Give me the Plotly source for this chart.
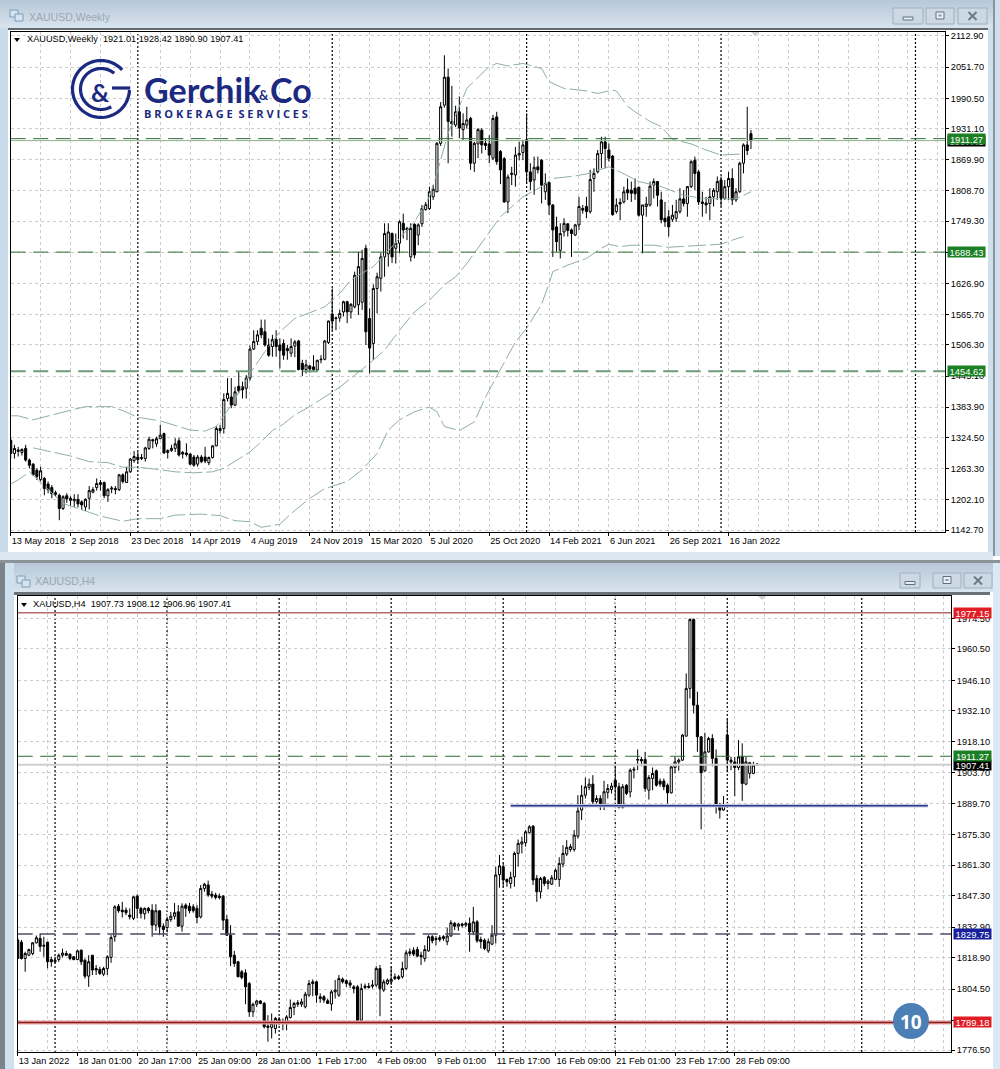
import numpy as np
import plotly.graph_objects as go

# ---------- DATA ----------
weekly_candles = [
(1319,1323,1283,1293),(1293,1310,1283,1303),(1297,1306,1287,1300),(1295,1303,1289,1301),(1303,1310,1277,1280),
(1280,1283,1264,1270),(1272,1274,1250,1251),(1260,1264,1241,1248),(1242,1267,1238,1259),(1244,1247,1211,1224),
(1233,1238,1215,1222),(1226,1231,1205,1214),(1216,1220,1208,1213),(1211,1214,1162,1185),(1185,1211,1182,1208),
(1210,1215,1196,1204),(1205,1209,1190,1201),(1200,1213,1188,1203),(1203,1213,1187,1194),(1198,1201,1182,1192),
(1188,1205,1180,1203),(1205,1229,1183,1220),(1217,1227,1215,1222),(1226,1244,1220,1234),(1232,1241,1220,1236),
(1236,1238,1205,1210),(1210,1225,1198,1222),(1223,1229,1215,1225),(1224,1229,1213,1222),(1222,1253,1219,1251),
(1251,1254,1234,1238),(1236,1267,1235,1257),(1257,1284,1255,1282),(1279,1298,1275,1287),(1286,1296,1275,1281),
(1283,1292,1280,1285),(1283,1306,1277,1304),(1303,1326,1300,1321),(1320,1322,1303,1318),(1312,1326,1306,1322),
(1322,1349,1321,1329),(1332,1334,1292,1294),(1295,1301,1283,1299),(1299,1310,1296,1303),(1303,1323,1296,1312),
(1318,1324,1287,1290),(1295,1298,1283,1292),(1294,1313,1287,1291),(1292,1293,1270,1272),(1286,1290,1267,1270),
(1272,1290,1267,1286),(1286,1290,1274,1277),(1286,1306,1274,1278),(1275,1287,1270,1285),(1285,1309,1283,1308),
(1308,1347,1307,1342),(1342,1349,1332,1338),(1342,1411,1332,1399),(1401,1441,1395,1411),(1404,1441,1382,1388),
(1388,1424,1386,1414),(1425,1454,1411,1416),(1424,1434,1401,1418),(1421,1447,1401,1441),(1441,1505,1436,1498),
(1498,1535,1496,1513),(1513,1535,1506,1526),(1539,1556,1519,1526),(1532,1556,1503,1506),(1506,1519,1483,1486),
(1503,1526,1483,1517),(1517,1535,1483,1503),(1506,1519,1460,1495),(1509,1517,1477,1486),(1499,1506,1477,1495),
(1490,1519,1483,1503),(1504,1516,1482,1512),(1514,1516,1456,1458),(1470,1477,1445,1458),(1458,1477,1450,1467),
(1465,1467,1452,1459),(1463,1486,1455,1458),(1457,1477,1456,1476),(1477,1486,1470,1478),(1478,1516,1476,1514),
(1511,1554,1508,1553),(1567,1617,1535,1553),(1558,1562,1535,1559),(1559,1575,1552,1568),(1571,1593,1562,1591),
(1591,1593,1549,1571),(1571,1588,1558,1586),(1581,1650,1578,1643),(1585,1689,1565,1660),(1590,1693,1575,1676),
(1696,1703,1506,1532),(1558,1578,1450,1500),(1509,1625,1477,1617),(1617,1648,1568,1640),(1637,1687,1611,1679),
(1679,1745,1640,1725),(1685,1745,1660,1728),(1725,1727,1667,1679),(1696,1725,1666,1706),(1706,1751,1686,1748),
(1745,1764,1715,1732),(1735,1738,1712,1732),(1679,1745,1670,1735),(1743,1745,1676,1683),(1722,1745,1702,1742),
(1744,1781,1738,1774),(1772,1787,1770,1782),(1774,1817,1771,1807),(1797,1820,1791,1812),(1807,1905,1806,1902),
(1902,1983,1897,1974),(1977,2075,1972,2032),(2032,2049,1863,1945),(1945,2015,1915,1940),(1938,1976,1934,1964),
(1964,1994,1912,1932),(1929,1961,1909,1941),(1938,1974,1931,1948),(1951,1954,1850,1863),(1863,1905,1846,1902),
(1901,1932,1873,1929),(1928,1932,1882,1899),(1902,1912,1889,1898),(1901,1918,1863,1879),(1873,1958,1869,1951),
(1954,1964,1860,1866),(1886,1889,1822,1850),(1872,1875,1785,1787),(1787,1841,1765,1836),(1841,1856,1820,1843),
(1840,1895,1817,1879),(1879,1905,1869,1882),(1884,1909,1869,1899),(1909,1961,1823,1846),(1846,1863,1810,1827),
(1830,1876,1801,1855),(1856,1876,1843,1850),(1869,1871,1784,1820),(1807,1843,1791,1823),(1825,1827,1761,1781),
(1781,1783,1679,1732),(1738,1758,1689,1709),(1692,1745,1676,1725),(1728,1755,1719,1745),(1744,1745,1719,1731),
(1732,1735,1679,1725),(1722,1744,1720,1742),(1742,1797,1732,1778),(1774,1781,1764,1771),(1778,1797,1755,1768),
(1768,1850,1764,1831),(1833,1853,1807,1843),(1846,1889,1843,1882),(1882,1915,1853,1905),(1905,1915,1853,1892),
(1889,1902,1866,1873),(1877,1879,1760,1762),(1768,1794,1764,1781),(1786,1794,1751,1783),(1787,1817,1784,1807),
(1811,1833,1791,1805),(1810,1827,1787,1804),(1814,1833,1791,1803),(1816,1817,1758,1761),(1761,1781,1686,1781),
(1778,1797,1758,1783),(1781,1827,1778,1818),(1820,1833,1794,1827),(1827,1828,1778,1800),(1791,1807,1745,1752),
(1755,1787,1738,1748),(1758,1771,1719,1738),(1753,1781,1748,1761),(1755,1791,1748,1768),(1768,1814,1764,1793),
(1793,1810,1778,1784),(1784,1818,1758,1817),(1817,1869,1814,1866),(1869,1876,1810,1843),(1846,1850,1781,1787),
(1787,1807,1758,1784),(1785,1797,1764,1781),(1784,1814,1751,1797),(1797,1814,1778,1810),(1807,1837,1791,1827),
(1830,1837,1778,1794),(1794,1830,1791,1817),(1817,1846,1791,1833),(1833,1853,1781,1791),(1791,1814,1787,1807),
(1807,1866,1805,1863),(1863,1902,1843,1899),(1899,1974,1879,1888),(1921.01,1928.42,1890.90,1907.41),
]

h4_candles = [
(1827,1828,1818.5,1818.5),(1826,1827,1818,1818.5),(1818.5,1821.6,1812.4,1820.8),(1820,1823,1819.6,1822.6),(1820.8,1826,1820,1825.7),
(1825.7,1829,1825.4,1828),(1827.7,1830,1821.6,1824),(1824.6,1828.5,1819.3,1824.2),(1826,1826.2,1814,1817),(1818,1819.3,1814.7,1817),
(1817,1819.3,1816.2,1817.7),(1818,1820.8,1817,1820),(1820,1823,1819,1821),(1820.8,1822,1819.6,1820),(1820.5,1820.8,1817.7,1818.5),
(1819.3,1819.6,1817.7,1818),(1818,1822.6,1817.7,1822),(1822.3,1822.6,1815.5,1817),(1817.7,1818.5,1809.3,1810.4),(1810.4,1820,1805.5,1817),
(1820,1820,1810.9,1813.2),(1813.9,1815.5,1810.9,1813.2),(1813.5,1814.7,1810.9,1811.6),(1811.3,1814.7,1810.4,1813.9),(1813.9,1820,1810.9,1819.3),
(1819,1829.2,1816.5,1828.1),(1828.5,1843,1826.2,1842.2),(1842.5,1843.5,1839.5,1840.4),(1840.7,1844.5,1837.3,1840),(1840.7,1841.9,1838.4,1839.5),
(1838.4,1841.5,1836.4,1837.6),(1836.9,1847.1,1836.1,1846.8),(1847.1,1848,1836.9,1841.5),(1841.5,1842.2,1836.9,1839.2),(1839,1841.9,1836.4,1841.5),
(1841.5,1842.2,1839.2,1840.4),(1840.7,1843.4,1828.5,1833.8),(1833.8,1843.4,1831.2,1840.4),(1840.4,1840.7,1829.2,1833),(1833.3,1834.6,1828.5,1831.8),
(1832.7,1837.6,1830.8,1836.4),(1836.4,1839.9,1835.3,1837.9),(1837.9,1844,1836.4,1839.5),(1839.9,1843,1833,1833.3),(1833.3,1843.8,1830.8,1842.5),
(1843,1843.8,1837.6,1841.5),(1842.5,1844,1839.2,1840.4),(1842.2,1843.4,1839.5,1840.4),(1841.5,1843,1834.6,1837.3),(1837.6,1852.2,1836.9,1850.6),
(1850.6,1853.2,1849.1,1852.6),(1852.2,1854.2,1846.8,1847.6),(1848,1849.5,1846,1847.1),(1847.6,1848.6,1845.6,1846.5),(1847.1,1848.3,1845.6,1846.5),
(1847.1,1847.6,1831.5,1836.1),(1836.4,1838.4,1828.8,1829.2),(1829.2,1833.8,1815,1819.3),(1820,1822,1814.7,1816.2),(1817,1817.4,1810.1,1810.1),
(1812.4,1813.2,1808.9,1809.8),(1811.9,1813.5,1797.5,1805.5),(1807,1807.8,1791.7,1794),(1794,1798.2,1791.7,1797.5),(1797.5,1799.4,1796.3,1799),
(1799,1799.4,1797.5,1797.9),(1797.9,1798.6,1786.4,1787.2),(1787.5,1792.5,1780.3,1786.9),(1786.9,1793.3,1781.8,1788.7),(1786.4,1791.7,1784.1,1791),
(1790.5,1791.7,1787.9,1789),(1789.4,1791,1785.6,1788.7),(1788.7,1792.5,1785.6,1791.7),(1791.4,1799.7,1791,1796),(1796,1798.6,1792.5,1797.9),
(1797.5,1799.4,1796.3,1798.2),(1797.5,1800.1,1796.3,1798.6),(1796.3,1803.2,1795.6,1802.1),(1801.7,1808.6,1800.9,1807),(1807,1808.9,1801.2,1807.8),
(1807.8,1808.3,1798.2,1801.7),(1800.9,1802.5,1798.2,1800.1),(1800.9,1801.7,1798.2,1799.4),(1799.1,1800.1,1797.9,1797.9),(1797.6,1804,1794.5,1803.2),
(1803.2,1808.6,1800.1,1804),(1801.7,1810.9,1800.9,1809.3),(1809,1809.8,1807,1807.8),(1808.3,1808.9,1805.5,1807),(1807.3,1808.6,1805,1806.3),
(1805.5,1806.3,1802.5,1804.7),(1805.5,1806.3,1788.4,1790.2),(1790.2,1807,1790.2,1804.7),(1805.2,1807,1804.3,1805.8),(1805.8,1807.3,1804.7,1805.2),
(1805.8,1808.6,1804.7,1806.3),(1806.3,1815,1805.5,1813.9),(1813.9,1815.5,1792,1804.7),(1804,1808.9,1803.2,1807.8),(1807,1809.3,1806.3,1808.6),
(1807.8,1814.7,1806.3,1808.9),(1809.3,1811.6,1808.6,1810.1),(1810.1,1810.9,1808.6,1809.3),(1810.1,1817,1809.3,1813.9),(1813.9,1822.3,1813.2,1821.1),
(1820.8,1823.1,1819.6,1821.6),(1822.3,1823.6,1819.6,1820.5),(1822.6,1823.9,1819,1819.6),(1820,1821.6,1815.5,1819.3),(1818.5,1824.6,1817,1822.6),
(1822,1829.2,1821.6,1828.5),(1828.5,1829.2,1825.4,1826.6),(1827.7,1828.8,1824.6,1827.2),(1827.2,1829.2,1826.2,1828.1),(1828.5,1829.2,1826.6,1827.7),
(1826.2,1832.7,1824.6,1828.8),(1828.8,1836.1,1828.5,1834.9),(1834.6,1835.3,1831.5,1833.3),(1833.3,1834.9,1831.2,1834.3),(1834.3,1834.9,1832.7,1833.7),
(1833.8,1835.3,1833,1834.6),(1834.6,1837.3,1821.6,1830.7),(1830.7,1842.2,1829.2,1835.3),(1835.3,1836.1,1825.7,1826.6),(1827.2,1828.5,1823.1,1826.2),
(1826.9,1827.7,1822.3,1823.1),(1822,1827.7,1821.1,1826.2),(1825.1,1833.8,1824.6,1829.2),(1829.2,1860.6,1825.4,1856.8),(1857,1866,1851,1861),
(1860.6,1862.1,1851.4,1854.5),(1854.8,1855.2,1851.4,1853.7),(1852.9,1858.3,1850.6,1855.7),(1856,1867.5,1851.4,1866.7),(1866.7,1873.1,1860.6,1871.3),
(1871,1874.4,1866.7,1872),(1871.6,1877.4,1869.8,1876.6),(1876.2,1879.7,1875.9,1878.9),(1879.2,1879.7,1852.2,1854.5),(1855.2,1856.8,1844.5,1849.1),
(1849.1,1856,1846,1855.2),(1855.7,1856.3,1851.7,1852.9),(1852.9,1854.8,1850.2,1854),(1852.6,1856.8,1852.2,1855.5),(1854.8,1859.8,1854.5,1859),
(1854.8,1864.9,1851.4,1862.1),(1861.8,1870.5,1860.3,1866.7),(1866.4,1872.8,1865.5,1869.5),(1868.5,1871,1867.5,1869.8),(1868.5,1877.4,1867.5,1875.1),
(1874.6,1893.4,1873.5,1886.2),(1886.6,1898,1882,1893.4),(1893.4,1901.5,1891.9,1897.3),(1897,1901,1895.7,1898.5),(1898.5,1902.6,1888.4,1890.4),
(1890.4,1893.4,1889.6,1891.9),(1891.9,1893.4,1886.6,1889.6),(1888.8,1900,1886.6,1895),(1894.7,1898.5,1891.9,1896.5),(1896,1899.1,1894.2,1897.6),
(1900.3,1908.7,1891.1,1897.3),(1897.3,1899.1,1887.3,1887.8),(1887.8,1898.5,1887.3,1897.3),(1898,1898.5,1893.4,1894.2),(1894.9,1905.7,1892.4,1904.9),
(1904.9,1906.4,1901.1,1905.3),(1909.5,1914.4,1904.9,1909.8),(1909.8,1911,1906.7,1909.2),(1909.8,1913.3,1895,1896.5),(1895.7,1902.6,1891.4,1901.5),
(1901.1,1906.1,1895.7,1903.4),(1904.6,1905.2,1897.3,1898),(1899.9,1901.1,1897.3,1898.5),(1899.9,1901.1,1895.7,1897.3),(1898,1898.8,1889.6,1894.5),
(1894.5,1906.7,1894.2,1906.4),(1906.1,1911,1903.4,1908.7),(1908.7,1910.3,1904.6,1909.5),(1909.5,1921.4,1909.2,1921),(1920.5,1949.3,1920.5,1942.4),
(1942.4,1974.5,1937.8,1974),(1974,1974.5,1930.9,1934.7),(1934.7,1940.9,1913.3,1920.2),(1920.2,1920.5,1877.7,1903.7),(1904.6,1922.1,1904.2,1913.3),
(1913.3,1920.2,1912.9,1919.4),(1919.4,1921.4,1906.7,1910.3),(1910.3,1914.4,1885,1888.8),(1888.8,1889.9,1882.7,1886.6),(1886.6,1893,1886.3,1888.8),
(1921,1928.2,1904.2,1909.5),(1909.5,1911,1904.9,1908.7),(1908.7,1911,1893,1906.1),(1906.1,1918.7,1904.9,1911),(1911,1917.2,1890.8,1898.8),
(1898.5,1911,1898,1908.7),(1903.4,1908.7,1901.1,1908.3),(1903.4,1908.7,1903.1,1907.2),(1907.73,1908.12,1906.96,1907.41),
]

upper_band = [(0,1367),(2,1367),(6,1359),(10,1367),(16,1378),(20,1385),(27,1385),(30,1377),(34,1364),(40,1357),(43,1350),(48,1339),(52,1337),(55,1346),
(59,1388),(64,1450),(68,1493),(72,1532),(76,1558),(80,1570),(84,1581),(88,1607),(91,1634),(97,1660),(100,1683),(108,1748),(112,1797),(114,1843),(117,1922),
(122,2010),(126,2040),(128,2053),(130,2059),(133,2054),(137,2059),(140,2053),(142,2049),(144,2023),(148,2010),(154,2005),(157,2000),(161,2007),(162,2005),
(165,1975),(167,1964),(171,1945),(174,1935),(177,1910),(182,1901),(186,1889),(190,1879),(195,1881)]
middle_band = [(6,1304),(11,1296),(16,1288),(21,1277),(26,1275),(30,1266),(34,1266),(39,1262),(44,1257),(49,1255),(54,1257),(57,1264),(60,1277),(64,1296),
(67,1316),(70,1338),(73,1351),(76,1369),(80,1385),(84,1404),(88,1423),(92,1447),(96,1470),(100,1496),(104,1535),(108,1571),(112,1594),(116,1624),(119,1640),
(122,1666),(126,1706),(131,1758),(133,1771),(137,1797),(142,1817),(145,1833),(151,1838),(154,1842),(160,1856),(163,1846),(168,1827),(174,1817),(180,1800),
(185,1794),(190,1793),(194,1793),(198,1807)]
lower_band = [(0,1233),(2,1241),(5,1257),(14,1195),(18,1185),(24,1170),(30,1160),(34,1165),(40,1165),(44,1172),(51,1174),(56,1171),(60,1161),(64,1159),
(67,1148),(72,1154),(75,1175),(80,1205),(84,1224),(90,1238),(94,1261),(98,1293),(101,1339),(104,1359),(108,1375),(112,1384),(114,1375),(116,1346),(120,1338),
(124,1355),(127,1404),(131,1457),(132,1470),(135,1512),(138,1539),(140,1562),(142,1586),(144,1627),(145,1650),(149,1663),(154,1676),(158,1696),(160,1704),
(163,1699),(166,1702),(172,1702),(176,1698),(183,1701),(190,1704),(193,1712),(196,1719)]

weekly_date_labels = ["13 May 2018","2 Sep 2018","23 Dec 2018","14 Apr 2019","4 Aug 2019","24 Nov 2019","15 Mar 2020",
                      "5 Jul 2020","25 Oct 2020","14 Feb 2021","6 Jun 2021","26 Sep 2021","16 Jan 2022"]
h4_date_labels = ["13 Jan 2022","18 Jan 01:00","20 Jan 17:00","25 Jan 09:00","28 Jan 01:00","1 Feb 17:00","4 Feb 09:00",
                  "9 Feb 01:00","11 Feb 17:00","16 Feb 09:00","21 Feb 01:00","23 Feb 17:00","28 Feb 09:00"]
weekly_price_ticks = [2112.90,2051.70,1990.50,1931.10,1869.90,1808.70,1749.30,1688.10,1626.90,1565.70,1506.30,1445.10,1383.90,1324.50,1263.30,1202.10,1142.70]
h4_price_ticks = [1974.50,1960.50,1946.10,1932.10,1918.10,1903.70,1889.70,1875.30,1861.30,1847.30,1832.90,1818.90,1804.50,1790.10,1776.50]
weekly_levels = [1911.27,1688.43,1454.62]
weekly_bid = 1907.41
h4_levels = {"green":1911.27,"blue":1829.75,"red_top":1977.15,"red_low":1789.18,"bid":1907.41,"support":1888.6}
weekly_separators = [34,86,138,190,242]
h4_separators = [10,40,70,100,130,160,190,226]

W, H = 1000, 1069
fx = lambda x: x / W
fy = lambda y: 1 - y / H
shapes, annos = [], []

def rect(x0, y0, x1, y1, fill, line=None, lw=0, layer="below"):
    shapes.append(dict(type="rect", xref="paper", yref="paper", x0=fx(x0), x1=fx(x1), y0=fy(y0), y1=fy(y1),
                       fillcolor=fill, line=dict(color=line or fill, width=lw), layer=layer))

def text(x, y, s, size=9.2, color="#000", anchor="left", family="Liberation Sans", bold=False):
    annos.append(dict(xref="paper", yref="paper", x=fx(x), y=fy(y), text=f"<b>{s}</b>" if bold else s, showarrow=False,
                      xanchor=anchor, yanchor="middle", font=dict(size=size, color=color, family=family), align="left"))

def mix(a, b, t):
    return "rgb(%d,%d,%d)" % tuple(int(a[i] + (b[i] - a[i]) * t) for i in range(3))

def titlebar(x0, x1, y0, y1):
    for y in range(y0, y1):
        rect(x0, y, x1, y + 1, mix((184, 201, 217), (217, 228, 238), (y - y0) / (y1 - y0)))

def button(x0, x1, y0, y1, kind):
    rect(x0, y0, x1, y1, "#ccd9e5", "#9fb0c0", 1)
    cx, cy = (x0 + x1) / 2, (y0 + y1) / 2
    if kind == 0:
        rect(cx - 5, cy + 1, cx + 5, cy + 4, "#e8eef4", "#5f7080", 1)
    elif kind == 1:
        rect(cx - 4, cy - 4, cx + 4, cy + 3, "#e8eef4", "#5f7080", 1)
        rect(cx - 1.5, cy - 1.5, cx + 1.5, cy + 0.5, "#8a98a6")
    else:
        for sgn in (1, -1):
            shapes.append(dict(type="line", xref="paper", yref="paper", x0=fx(cx - 4), x1=fx(cx + 4),
                               y0=fy(cy - 4 * sgn), y1=fy(cy + 4 * sgn), line=dict(color="#6a7b8b", width=2), layer="below"))

def icon(x, y):
    rect(x, y, x + 8, y + 7, "#d5e4f0", "#7f9db8", 1)
    rect(x + 5, y + 4, x + 13, y + 11, "#d5e4f0", "#7f9db8", 1)

# ---------- window chrome ----------
rect(0, 0, 1000, 1069, "#ffffff")
rect(0, 0, 8, 556, "#c9dbeb")
rect(988, 0, 1000, 556, "#cfdfec")
rect(993, 0, 995, 556, "#8a949c")
titlebar(0, 993, 0, 28)
rect(8, 28, 988, 30, "#62686e")
rect(0, 552, 993, 560, "#dbe6ef")
rect(0, 560, 1000, 563, "#8b9399")
rect(0, 563, 5, 1069, "#7a838a")
rect(5, 563, 14, 1069, "#cfe0ef")
rect(993, 563, 1000, 1069, "#dbe9f5")
titlebar(14, 993, 563, 592)
rect(14, 592, 990, 595, "#6b7177")

button(893, 923, 8, 24, 0); button(926, 954, 8, 24, 1); button(958, 987, 8, 24, 2)
button(900, 920, 573, 588, 0); button(933, 961, 573, 588, 1); button(964, 992, 573, 588, 2)
icon(10, 10); icon(17, 576)
text(27, 16.5, "XAUUSD,Weekly", 10.5, "#9aa6b2")
text(33, 581, "XAUUSD,H4", 10.5, "#9aa6b2")

for tx, ty in ((14, 38), (21, 603)):
    shapes.append(dict(type="path", xref="paper", yref="paper", layer="above", fillcolor="#000", line=dict(width=0),
                       path=f"M {fx(tx)} {fy(ty)} L {fx(tx+6)} {fy(ty)} L {fx(tx+3)} {fy(ty+4)} Z"))
for tx, ty in ((755, 32), (762, 596)):
    shapes.append(dict(type="path", xref="paper", yref="paper", layer="above", fillcolor="#c9ced3", line=dict(width=0),
                       path=f"M {fx(tx-4)} {fy(ty)} L {fx(tx+4)} {fy(ty)} L {fx(tx)} {fy(ty+4)} Z"))
text(25, 38.5, "XAUUSD,Weekly&nbsp;&nbsp;1921.01 1928.42 1890.90 1907.41", 9.2)
text(31, 603.5, "XAUUSD,H4&nbsp;&nbsp;1907.73 1908.12 1906.96 1907.41", 9.2)

# ---------- logo ----------
LOGO = "#1b2a80"
def arc(cx, cy, r, a0, a1, w):
    t = np.radians(np.linspace(a0, a1, 60))
    xs, ys = cx + r * np.cos(t), cy - r * np.sin(t)
    p = "M " + " L ".join(f"{fx(a):.5f} {fy(b):.5f}" for a, b in zip(xs, ys))
    shapes.append(dict(type="path", xref="paper", yref="paper", path=p, line=dict(color=LOGO, width=w), layer="above"))
arc(101, 89, 28.5, 42, 358, 3.2)
arc(101, 89, 20.5, 50, 300, 3.2)
shapes.append(dict(type="line", xref="paper", yref="paper", x0=fx(112), x1=fx(130), y0=fy(88), y1=fy(88), line=dict(color=LOGO, width=3.2), layer="above"))
text(100, 92, "&amp;", 25, LOGO, "center", "Lato", True)
text(142, 90, "Gerchik", 34, LOGO, "left", "Lato", True)
text(257, 95, "&amp;", 13, LOGO, "left", "Lato", True)
text(268, 90, "Co", 34, LOGO, "left", "Lato", True)
text(142, 114, "B R O K E R A G E&nbsp;&nbsp;S E R V I C E S", 11, LOGO, "left", "Open Sans", True)

# ---------- charts ----------
fig = go.Figure()

def candles(rows, xa, ya):
    o, h, l, c = zip(*rows)
    fig.add_trace(go.Candlestick(x=list(range(len(rows))), open=o, high=h, low=l, close=c, xaxis=xa, yaxis=ya, whiskerwidth=0,
                                 increasing=dict(line=dict(color="#000", width=1), fillcolor="#fff"),
                                 decreasing=dict(line=dict(color="#000", width=1), fillcolor="#000"),
                                 showlegend=False, hoverinfo="skip"))

def hline(v, x0, x1, xa, ya, color, w, dash="solid"):
    fig.add_trace(go.Scatter(x=[x0, x1], y=[v, v], xaxis=xa, yaxis=ya, mode="lines", showlegend=False, hoverinfo="skip",
                             line=dict(color=color, width=w, dash=dash)))

XMAX = 249.9
DASH = "15px,7.5px"
for band in (upper_band, middle_band, lower_band):
    xs, ys = zip(*band)
    fig.add_trace(go.Scatter(x=xs, y=ys, xaxis="x", yaxis="y", mode="lines", showlegend=False, hoverinfo="skip",
                             line=dict(color="#8fb0a0", width=1, dash="18px,4px")))
candles(weekly_candles, "x", "y")
hline(weekly_bid, 0, XMAX, "x", "y", "#8fb08f", 1)
hline(weekly_levels[0], 0, XMAX, "x", "y", "#2f6b35", 1, DASH)
hline(weekly_levels[1], 0, XMAX, "x", "y", "#2f6b35", 1, DASH)
hline(weekly_levels[2], 0, XMAX, "x", "y", "#6f9a78", 2, DASH)

hline(h4_levels["bid"], 0, XMAX, "x2", "y2", "#cfcfcf", 2)
candles(h4_candles, "x2", "y2")
hline(h4_levels["green"], 0, XMAX, "x2", "y2", "#2f6b35", 1, DASH)
hline(h4_levels["blue"], 0, XMAX, "x2", "y2", "#4d4d68", 1.5, DASH)
hline(h4_levels["red_top"], 0, XMAX, "x2", "y2", "#b56a6a", 1.5)
hline(h4_levels["red_low"], 0, XMAX, "x2", "y2", "#eba5a5", 4)
hline(h4_levels["red_low"], 0, XMAX, "x2", "y2", "#8b1c1c", 1.5)
hline(h4_levels["support"], 132, 243.7, "x2", "y2", "#c5cbe6", 3.5)
hline(h4_levels["support"], 132, 243.7, "x2", "y2", "#2c3a8c", 1.5)

for xa, seps in (("x", weekly_separators), ("x2", h4_separators)):
    for s in seps:
        shapes.append(dict(type="line", xref=xa, yref=("y" if xa == "x" else "y2") + " domain", x0=s, x1=s, y0=0, y1=1,
                           line=dict(color="#000", width=1.2, dash="2px,2px"), layer="below"))

def price_label(xp, yref, v, bg, s=None):
    annos.append(dict(xref="paper", yref=yref, x=fx(xp), y=v, text=s or f"{v:.2f}", showarrow=False, xanchor="left", yanchor="middle",
                      bgcolor=bg, width=37, height=10, borderpad=0, align="center",
                      font=dict(size=9.4, color="#fff", family="Liberation Sans")))

price_label(947, "y", 1907.41, "#000000")
price_label(947, "y", 1911.27, "#1b7f24")
price_label(947, "y", 1688.43, "#1b7f24")
price_label(947, "y", 1454.62, "#1b7f24")
price_label(953, "y2", 1977.15, "#e01c24")
price_label(953, "y2", 1907.41, "#000000")
price_label(953, "y2", 1911.27, "#1b7f24")
price_label(953, "y2", 1829.75, "#16209a")
price_label(953, "y2", 1789.18, "#e01c24")

# badge
rx, ry = 18, 18
shapes.append(dict(type="circle", xref="paper", yref="paper", x0=fx(911 - rx), x1=fx(911 + rx), y0=fy(1021 - ry), y1=fy(1021 + ry),
                   fillcolor="#4b7fb5", line=dict(width=0), layer="above"))
text(911, 1021.5, "10", 19, "#fff", "center", "Open Sans", True)

GRID = "#cccccc"
def xaxis(domain, labels, anchor):
    major = [16 * k for k in range(len(labels))]
    minor = [8 * k for k in range(0, 32)]
    return dict(domain=domain, range=[0, XMAX], anchor=anchor, tickmode="array", tickvals=major, ticktext=labels, automargin=False,
                ticks="outside", ticklen=3, tickcolor="#000", showgrid=True, gridcolor=GRID, griddash="3px,3px", gridwidth=1,
                minor=dict(tickmode="array", tickvals=minor, showgrid=True, gridcolor=GRID, griddash="3px,3px", gridwidth=1, ticks=""),
                showline=True, mirror=True, linecolor="#000", linewidth=1, zeroline=False,
                ticklabelposition="outside right", tickangle=0, rangeslider=dict(visible=False),
                tickfont=dict(size=9.2, color="#000", family="Liberation Sans"), fixedrange=True)

def yaxis(domain, rng, ticks, anchor):
    return dict(domain=domain, range=rng, anchor=anchor, side="right", tickmode="array", tickvals=ticks, ticktext=[f"{t:.2f}" for t in ticks],
                automargin=False, ticks="outside", ticklen=3, tickcolor="#000", showgrid=True, gridcolor=GRID, griddash="3px,3px", gridwidth=1,
                showline=True, mirror=True, linecolor="#000", linewidth=1, zeroline=False,
                tickfont=dict(size=9.2, color="#000", family="Liberation Sans"), fixedrange=True)

fig.update_layout(
    width=W, height=H, margin=dict(l=0, r=0, t=0, b=0), paper_bgcolor="#fff", plot_bgcolor="rgba(255,255,255,0)", showlegend=False, boxgap=0.2,
    xaxis=xaxis([fx(10.7), fx(945)], weekly_date_labels, "y"),
    yaxis=yaxis([fy(532), fy(31.5)], [1138.8, 2121.7], weekly_price_ticks, "x"),
    xaxis2=xaxis([fx(17.7), fx(951)], h4_date_labels, "y2"),
    yaxis2=yaxis([fy(1052), fy(596)], [1775.6, 1984.8], h4_price_ticks, "x2"),
    shapes=shapes, annotations=annos,
)
fig.write_html("out.html", config={"displayModeBar": False},
               post_script="document.body.style.margin='0';document.body.style.overflow='hidden';")
